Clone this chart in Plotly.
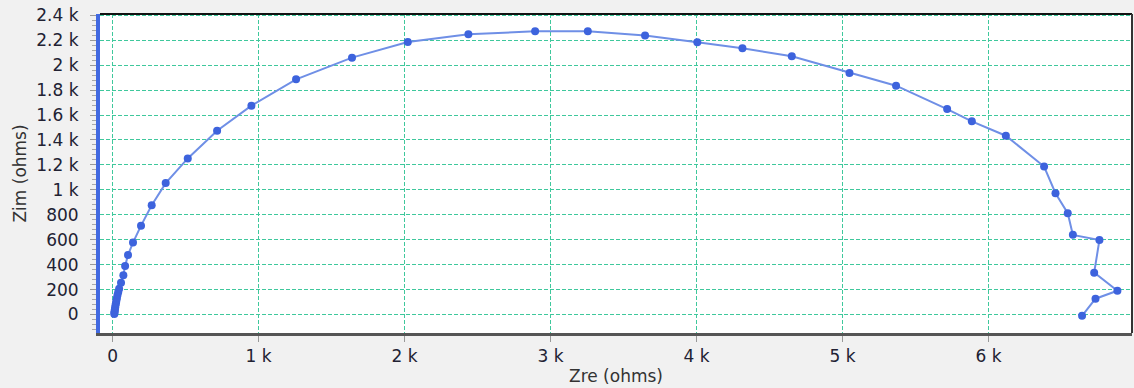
import plotly.graph_objects as go

# Nyquist data (ohms)
zre = [12, 13, 14, 16, 18, 20, 23, 26, 30, 34, 39, 45, 58, 74, 86,
       106, 140, 195, 268, 364, 515, 716, 951, 1257, 1640, 2022, 2437,
       2894, 3255, 3647, 4005, 4314, 4652, 5047, 5366, 5716, 5885, 6118,
       6380, 6458, 6542, 6577, 6759, 6723, 6882, 6732, 6640]
zim = [5, 15, 27, 40, 55, 72, 90, 110, 132, 156, 180, 207, 255, 315, 390,
       478, 577, 713, 876, 1054, 1252, 1474, 1675, 1886, 2060, 2186, 2247,
       2272, 2272, 2237, 2183, 2135, 2071, 1937, 1835, 1648, 1549, 1434,
       1187, 973, 813, 639, 598, 336, 191, 127, -10]

x_tickvals = [0, 1000, 2000, 3000, 4000, 5000, 6000]
x_ticktext = ["0", "1 k", "2 k", "3 k", "4 k", "5 k", "6 k"]
y_tickvals = [0, 200, 400, 600, 800, 1000, 1200, 1400, 1600, 1800, 2000, 2200, 2400]
y_ticktext = ["0", "200", "400", "600", "800", "1 k", "1.2 k", "1.4 k", "1.6 k",
              "1.8 k", "2 k", "2.2 k", "2.4 k"]

fig = go.Figure(go.Scatter(
    x=zre, y=zim, mode="lines+markers",
    line=dict(color="#6f8fe6", width=2),
    marker=dict(color="#3d63dd", size=8),
))

grid = dict(showgrid=True, gridcolor="#3fc89c", gridwidth=1, griddash="4px,2px", zeroline=False)

fig.update_layout(
    width=1134, height=388,
    margin=dict(l=100, r=2, t=14, b=55),
    paper_bgcolor="#f1f1f1", plot_bgcolor="white",
    showlegend=False,
    font=dict(family="DejaVu Sans", size=17, color="#222233"),
)
fig.update_xaxes(
    range=[-86, 6982], tickvals=x_tickvals, ticktext=x_ticktext,
    ticks="outside", ticklen=6, tickcolor="#999999",
    showline=True, linecolor="#555555", linewidth=3,
    title=dict(text="Zre (ohms)", standoff=5, font=dict(size=17, color="#333333")),
    **grid,
)
fig.update_yaxes(
    range=[-148, 2410], tickvals=y_tickvals, ticktext=y_ticktext,
    ticks="outside", ticklen=6, tickcolor="#999999",
    minor=dict(dtick=40, tick0=0, ticks="outside", ticklen=4, tickcolor="#aaaaaa", showgrid=False),
    showline=True, linecolor="#4169e1", linewidth=4,
    ticklabelstandoff=8,
    title=dict(text="Zim (ohms)", standoff=6, font=dict(size=17, color="#333333")),
    **grid,
)
fig.add_shape(type="line", xref="x domain", yref="y domain", x0=0, x1=1, y0=1, y1=1,
              line=dict(color="#111111", width=2))
fig.add_shape(type="line", xref="x domain", yref="y domain", x0=1, x1=1, y0=0, y1=1,
              line=dict(color="#333333", width=2))

fig.write_html("out.html")
